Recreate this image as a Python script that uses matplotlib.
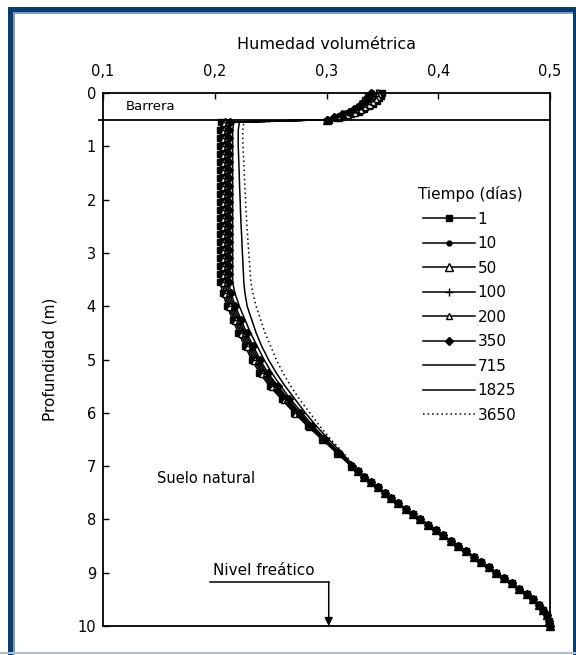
import matplotlib
matplotlib.use("Agg")
import matplotlib.pyplot as plt
from matplotlib.patches import Rectangle

# profundidades (m): barrera 0-0.5, suelo natural, tramo profundo hasta el freático
prof_barrera = [0.0, 0.05, 0.1, 0.15, 0.2, 0.25, 0.3, 0.35, 0.4, 0.45, 0.5]
prof_suelo = [0.55, 0.7, 0.85, 1.0, 1.15, 1.3, 1.45, 1.6, 1.75, 1.9, 2.05,
              2.2, 2.35, 2.5, 2.65, 2.8, 2.95, 3.1, 3.25, 3.4, 3.55,
              3.75, 4.0, 4.25, 4.5, 4.75, 5.0, 5.25, 5.5, 5.75, 6.0, 6.25,
              6.5, 6.75, 7.0]
prof_profunda = [7.1, 7.2, 7.3, 7.4, 7.5, 7.6, 7.7, 7.8, 7.9, 8.0, 8.1, 8.2,
                 8.3, 8.4, 8.5, 8.6, 8.7, 8.8, 8.9, 9.0, 9.1, 9.2, 9.3, 9.4,
                 9.5, 9.6, 9.7, 9.8, 9.9, 10.0]

# por debajo de 7 m todas las curvas coinciden
h_profunda = [0.328, 0.334, 0.340, 0.346, 0.352, 0.358, 0.364, 0.371, 0.377,
              0.384, 0.391, 0.398, 0.404, 0.411, 0.418, 0.425, 0.432, 0.438,
              0.445, 0.452, 0.459, 0.466, 0.472, 0.479, 0.485, 0.490, 0.494,
              0.497, 0.499, 0.500]

# humedad volumétrica en barrera y suelo para cada tiempo (días)
bar_1 = [0.350, 0.349, 0.347, 0.345, 0.342, 0.338, 0.334, 0.329, 0.322, 0.313, 0.302]
bar_10 = [0.348, 0.347, 0.345, 0.343, 0.340, 0.336, 0.332, 0.327, 0.320, 0.311, 0.300]
bar_50 = [0.346, 0.345, 0.343, 0.341, 0.338, 0.334, 0.330, 0.325, 0.318, 0.310, 0.300]
bar_100 = [0.344, 0.343, 0.341, 0.339, 0.336, 0.332, 0.328, 0.323, 0.316, 0.309, 0.300]
bar_200 = [0.342, 0.341, 0.339, 0.337, 0.334, 0.330, 0.326, 0.321, 0.315, 0.308, 0.300]
bar_350 = [0.340, 0.339, 0.337, 0.335, 0.332, 0.329, 0.325, 0.320, 0.314, 0.307, 0.300]
bar_715 = [0.338, 0.337, 0.335, 0.333, 0.331, 0.327, 0.323, 0.318, 0.313, 0.306, 0.300]
bar_1825 = [0.336, 0.335, 0.333, 0.331, 0.329, 0.326, 0.322, 0.317, 0.312, 0.306, 0.300]
bar_3650 = [0.335, 0.334, 0.332, 0.330, 0.328, 0.325, 0.321, 0.316, 0.311, 0.305, 0.300]

suelo_1 = [0.206, 0.205, 0.205, 0.205, 0.205, 0.205, 0.205, 0.205, 0.205,
           0.205, 0.205, 0.205, 0.205, 0.205, 0.205, 0.205, 0.205, 0.205,
           0.205, 0.205, 0.205,
           0.207, 0.211, 0.216, 0.221, 0.227, 0.233, 0.240, 0.249, 0.260,
           0.271, 0.283, 0.296, 0.309, 0.322]
suelo_10 = [0.2075, 0.2065, 0.2065, 0.2065, 0.2065, 0.2065, 0.2065, 0.2065,
            0.2065, 0.2065, 0.2065, 0.2065, 0.2065, 0.2065, 0.2065, 0.2065,
            0.2065, 0.2065, 0.2065, 0.2065, 0.2065,
            0.2085, 0.2125, 0.2175, 0.2225, 0.2285, 0.2345, 0.2415, 0.2505,
            0.2612, 0.272, 0.284, 0.2965, 0.3095, 0.3222]
suelo_50 = [0.209, 0.208, 0.208, 0.208, 0.208, 0.208, 0.208, 0.208, 0.208,
            0.208, 0.208, 0.208, 0.208, 0.208, 0.208, 0.208, 0.208, 0.208,
            0.208, 0.208, 0.208,
            0.210, 0.214, 0.219, 0.224, 0.230, 0.236, 0.243, 0.252, 0.2625,
            0.273, 0.285, 0.297, 0.310, 0.3225]
suelo_100 = [0.2105, 0.2095, 0.2095, 0.2095, 0.2095, 0.2095, 0.2095, 0.2095,
             0.2095, 0.2095, 0.2095, 0.2095, 0.2095, 0.2095, 0.2095, 0.2095,
             0.2095, 0.2095, 0.2095, 0.2095, 0.2095,
             0.2115, 0.2155, 0.2205, 0.2255, 0.2315, 0.2375, 0.2445, 0.2535,
             0.2637, 0.274, 0.2855, 0.2975, 0.3105, 0.3227]
suelo_200 = [0.212, 0.211, 0.211, 0.211, 0.211, 0.211, 0.211, 0.211, 0.211,
             0.211, 0.211, 0.211, 0.211, 0.211, 0.211, 0.211, 0.211, 0.211,
             0.211, 0.211, 0.211,
             0.213, 0.217, 0.222, 0.227, 0.233, 0.239, 0.246, 0.255, 0.265,
             0.275, 0.286, 0.298, 0.311, 0.323]
suelo_350 = [0.2135, 0.2125, 0.2125, 0.2125, 0.2125, 0.2125, 0.2125, 0.2125,
             0.2125, 0.2125, 0.2125, 0.2125, 0.2125, 0.2125, 0.2125, 0.2125,
             0.2125, 0.2125, 0.2125, 0.2125, 0.2125,
             0.2145, 0.2185, 0.2235, 0.2285, 0.2345, 0.2405, 0.2475, 0.2565,
             0.2662, 0.276, 0.2868, 0.2985, 0.3115, 0.3232]
suelo_715 = [0.217, 0.216, 0.216, 0.216, 0.216, 0.216, 0.216, 0.216, 0.216,
             0.216, 0.216, 0.216, 0.216, 0.216, 0.216, 0.216, 0.216, 0.216,
             0.216, 0.216, 0.216,
             0.218, 0.222, 0.227, 0.232, 0.238, 0.244, 0.251, 0.259, 0.268,
             0.278, 0.288, 0.2995, 0.312, 0.3235]
suelo_1825 = [0.222, 0.221, 0.221, 0.221, 0.2213, 0.2215, 0.2218, 0.222,
              0.2222, 0.2225, 0.2228, 0.223, 0.2233, 0.2236, 0.224, 0.2243,
              0.2246, 0.225, 0.2253, 0.2257, 0.226,
              0.227, 0.229, 0.233, 0.237, 0.242, 0.248, 0.255, 0.263, 0.272,
              0.281, 0.291, 0.302, 0.3135, 0.3245]
suelo_3650 = [0.226, 0.225, 0.225, 0.2253, 0.2256, 0.226, 0.2263, 0.2266,
              0.227, 0.2273, 0.2276, 0.228, 0.2284, 0.2288, 0.2293, 0.2298,
              0.2303, 0.2308, 0.2313, 0.2318, 0.2324,
              0.234, 0.237, 0.241, 0.245, 0.250, 0.255, 0.261, 0.268, 0.276,
              0.285, 0.294, 0.304, 0.315, 0.3255]

tiempos = ["1", "10", "50", "100", "200", "350", "715", "1825", "3650"]
barrera = [bar_1, bar_10, bar_50, bar_100, bar_200, bar_350, bar_715,
           bar_1825, bar_3650]
suelo = [suelo_1, suelo_10, suelo_50, suelo_100, suelo_200, suelo_350,
         suelo_715, suelo_1825, suelo_3650]

x_ticks = [0.1, 0.2, 0.3, 0.4, 0.5]
x_ticklabels = ["0,1", "0,2", "0,3", "0,4", "0,5"]
y_ticks = [0, 1, 2, 3, 4, 5, 6, 7, 8, 9, 10]

estilos = [
    dict(marker="s", ms=5, mfc="black", ls="-"),
    dict(marker="o", ms=3.5, mfc="black", ls="-"),
    dict(marker="^", ms=6, mfc="white", ls="-"),
    dict(marker="+", ms=6, mew=1.0, ls="-"),
    dict(marker="^", ms=4.5, mfc="white", ls="-"),
    dict(marker="D", ms=4.5, mfc="black", ls="-"),
    dict(marker=None, ls="-"),
    dict(marker=None, ls="-"),
    dict(marker=None, ls=(0, (1, 2))),
]

plt.rcParams["font.family"] = "DejaVu Sans"

fig = plt.figure(figsize=(5.76, 6.55), dpi=100)
fig.patch.set_facecolor("white")

# marco azul de la página
azul = "#0b3c6e"
azul_claro = "#7e9cc2"
fig.add_artist(Rectangle((8 / 576, 0), 5 / 576, 1 - 7 / 655,
                         transform=fig.transFigure, color=azul, lw=0))
fig.add_artist(Rectangle((8 / 576, 1 - 12 / 655), 1 - 8 / 576, 5 / 655,
                         transform=fig.transFigure, color=azul, lw=0))
fig.add_artist(Rectangle((573 / 576, 0), 3 / 576, 1 - 7 / 655,
                         transform=fig.transFigure, color=azul, lw=0))
fig.add_artist(Rectangle((13 / 576, 0), 1.5 / 576, 1 - 12 / 655,
                         transform=fig.transFigure, color=azul_claro, lw=0))
fig.add_artist(Rectangle((13 / 576, 1 - 13.5 / 655), 560 / 576, 1.5 / 655,
                         transform=fig.transFigure, color=azul_claro, lw=0))
fig.add_artist(Rectangle((0, 1 - 654 / 655), 1, 2 / 655,
                         transform=fig.transFigure, color="#a9bdd4", lw=0))

ax = fig.add_axes([103 / 576, 1 - 626 / 655, 447 / 576, 533 / 655])

profundidad = prof_barrera + prof_suelo + prof_profunda
for tiempo, hb, hs, est in zip(tiempos, barrera, suelo, estilos):
    ax.plot(hb + hs + h_profunda, profundidad, color="black", lw=1.1,
            mec="black", label=tiempo, clip_on=False, **est)

# límite barrera / suelo natural
ax.axhline(0.5, color="black", lw=1.3, xmin=-0.008, clip_on=False)

ax.set_xlim(0.1, 0.5)
ax.set_ylim(10, 0)
ax.xaxis.tick_top()
ax.xaxis.set_label_position("top")
ax.set_xticks(x_ticks)
ax.set_xticklabels(x_ticklabels)
ax.set_yticks(y_ticks)
ax.tick_params(axis="both", direction="in", length=4, width=1,
               labelsize=10.5, pad=5)
ax.tick_params(axis="x", pad=10)
for s in ax.spines.values():
    s.set_linewidth(1.3)

ax.set_xlabel("Humedad volumétrica", fontsize=11.5, labelpad=11)
ax.set_ylabel("Profundidad (m)", fontsize=11, labelpad=14)

ax.text(0.12, 0.25, "Barrera", fontsize=9.5, va="center", ha="left")
ax.text(0.192, 7.24, "Suelo natural", fontsize=10.5, va="center", ha="center")
ax.text(0.198, 8.95, "Nivel freático", fontsize=11, va="center", ha="left")

# flecha del nivel freático
ax.plot([0.196, 0.302], [9.17, 9.17], color="black", lw=1.1)
ax.annotate("", xy=(0.302, 10.0), xytext=(0.302, 9.17),
            arrowprops=dict(arrowstyle="-|>", color="black", lw=1.1,
                            mutation_scale=12, shrinkA=0, shrinkB=0))

leg = ax.legend(title="Tiempo (días)", loc="upper left",
                bbox_to_anchor=(0.68, 0.845), frameon=False, fontsize=11,
                title_fontsize=11, handlelength=3.4, handletextpad=0.15,
                labelspacing=0.62, borderpad=0.2)

fig.savefig("out.png", dpi=100, facecolor="white")
